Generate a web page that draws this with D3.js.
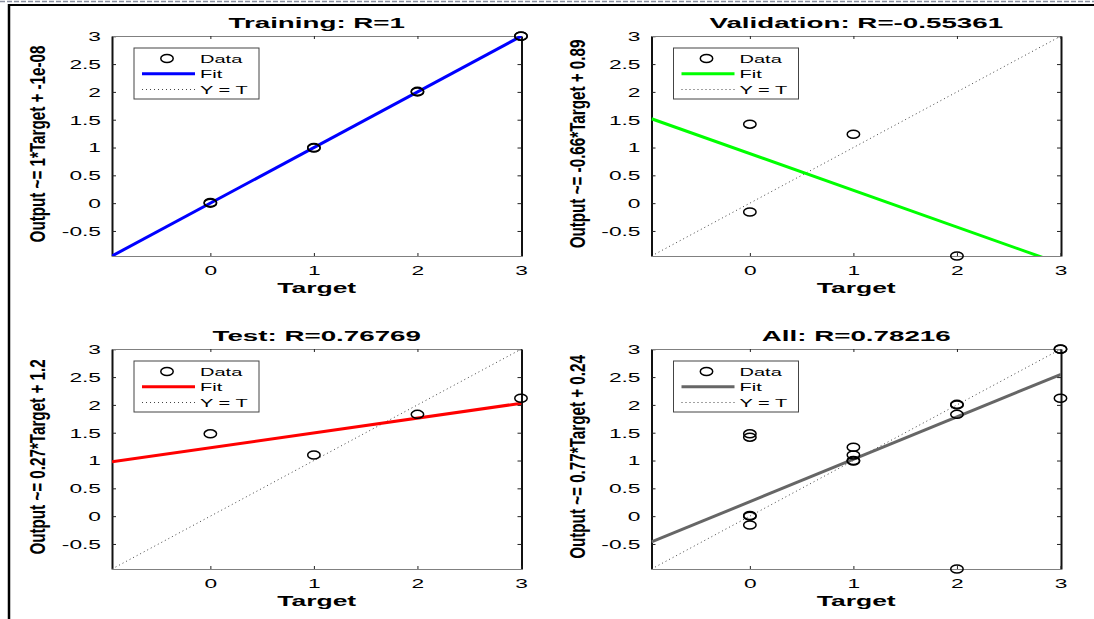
<!DOCTYPE html>
<html>
<head>
<meta charset="utf-8">
<script src="https://cdn.jsdelivr.net/npm/d3@7"></script>
<style>
  html, body { margin: 0; padding: 0; background: #fff; }
  svg { display: block; }
  text { font-family: "Liberation Sans", Arial, Helvetica, sans-serif; fill: #000; }
</style>
</head>
<body>
<svg id="chart" width="1094" height="619"></svg>
<script>
// ---------- data ----------
const trainTargets = [0, 0, 1, 1, 2, 2, 3, 3];
const trainOutputs = [0, 0.012, 1, 0.99, 2, 2.01, 3, 3.005];
const valTargets   = [0, 1, 0, 2];
const valOutputs   = [1.42, 1.24, -0.16, -0.95];
const testTargets  = [0, 1, 2, 3];
const testOutputs  = [1.48, 1.10, 1.83, 2.12];
const allTargets   = trainTargets.concat(valTargets, testTargets);
const allOutputs   = trainOutputs.concat(valOutputs, testOutputs);

const panelTitles  = ["Training: R=1", "Validation: R=-0.55361", "Test: R=0.76769", "All: R=0.78216"];
const yLabels      = ["Output ~= 1*Target + -1e-08", "Output ~= -0.66*Target + 0.89",
                      "Output ~= 0.27*Target + 1.2", "Output ~= 0.77*Target + 0.24"];
const fitSlopes     = [1, -0.66, 0.266, 0.762];
const fitIntercepts = [0, 0.89, 1.231, 0.26];
const fitColors     = ["#0000ff", "#00ff00", "#ff0000", "#666666"];
const xTicks = [0, 1, 2, 3];
const yTicks = [-0.5, 0, 0.5, 1, 1.5, 2, 2.5, 3];
const legendLabels = ["Data", "Fit", "Y = T"];
const xLabel = "Target";

// ---------- layout ----------
const svg = d3.select("#chart");
const FONT = '"Liberation Sans", Arial, Helvetica, sans-serif';
const SX = 1.85;           // horizontal stretch of the reference picture
const PW = 409.5, PH = 220;
const panelPos = [
  {left: 112, top: 36},
  {left: 651.5, top: 36},
  {left: 112, top: 349},
  {left: 651.5, top: 349}
];
const panelData = [
  {t: trainTargets, o: trainOutputs},
  {t: valTargets, o: valOutputs},
  {t: testTargets, o: testOutputs},
  {t: allTargets, o: allOutputs}
];

const lo = Math.min(d3.min(allTargets), d3.min(allOutputs));
const hi = Math.max(d3.max(allTargets), d3.max(allOutputs));

// frame lines
svg.append("line").attr("x1", 0).attr("x2", 1094).attr("y1", 1.5).attr("y2", 1.5)
  .attr("stroke", "#8a90a0").attr("stroke-width", 1.5).attr("stroke-dasharray", "5,2");
svg.append("line").attr("x1", 8).attr("x2", 1094).attr("y1", 5).attr("y2", 5)
  .attr("stroke", "#000").attr("stroke-width", 2);
svg.append("line").attr("x1", 9).attr("x2", 9).attr("y1", 4).attr("y2", 619)
  .attr("stroke", "#000").attr("stroke-width", 2.5);

function stretchedText(parent, x, y, str, size, weight, anchor, sx) {
  return parent.append("g")
    .attr("transform", `translate(${x},${y}) scale(${sx},1)`)
    .append("text")
    .attr("text-anchor", anchor)
    .attr("font-size", size)
    .attr("font-weight", weight)
    .text(str);
}

panelPos.forEach((p, i) => {
  const g = svg.append("g").attr("transform", `translate(${p.left},${p.top})`);
  const x = d3.scaleLinear().domain([lo, hi]).range([0, PW]);
  const y = d3.scaleLinear().domain([lo, hi]).range([PH, 0]);

  const clipId = "clip" + i;
  g.append("clipPath").attr("id", clipId)
    .append("rect").attr("x", 0).attr("y", 0).attr("width", PW).attr("height", PH);

  // axes
  const fmt = d => String(d);
  const ax = [
    g.append("g").call(d3.axisLeft(y).tickValues(yTicks).tickFormat(fmt).tickSizeInner(-4).tickSizeOuter(0).tickPadding(11)),
    g.append("g").attr("transform", `translate(${PW},0)`).call(d3.axisRight(y).tickValues(yTicks).tickFormat("").tickSizeInner(-4).tickSizeOuter(0)),
    g.append("g").attr("transform", `translate(0,${PH})`).call(d3.axisBottom(x).tickValues(xTicks).tickFormat(fmt).tickSizeInner(-3).tickSizeOuter(0).tickPadding(10)),
    g.append("g").call(d3.axisTop(x).tickValues(xTicks).tickFormat("").tickSizeInner(-3).tickSizeOuter(0))
  ];
  ax.forEach((a, k) => {
    a.selectAll("text").attr("font-family", FONT).attr("font-size", 12.3).attr("fill", "#000");
    a.selectAll(".tick line").attr("stroke", "#222").attr("stroke-width", 1);
    a.select(".domain").attr("stroke", k < 2 ? "#111" : "#808080").attr("stroke-width", k < 2 ? 2 : 1.2);
  });
  // stretch tick labels horizontally
  ax[0].selectAll(".tick text").attr("x", -11 / SX).attr("dy", "0.36em").attr("transform", `scale(${SX},1)`);
  ax[2].selectAll(".tick text").attr("x", 0).attr("y", 0).attr("dy", 0)
    .attr("transform", `translate(0,18.5) scale(${SX},1)`);

  // Y = T dotted line
  const plot = g.append("g").attr("clip-path", `url(#${clipId})`);
  plot.append("line")
    .attr("x1", x(lo)).attr("y1", y(lo)).attr("x2", x(hi)).attr("y2", y(hi))
    .attr("stroke", "#444").attr("stroke-width", 1).attr("stroke-dasharray", "1,3");
  // fit line
  plot.append("line")
    .attr("x1", x(lo)).attr("y1", y(fitSlopes[i] * lo + fitIntercepts[i]))
    .attr("x2", x(hi)).attr("y2", y(fitSlopes[i] * hi + fitIntercepts[i]))
    .attr("stroke", fitColors[i]).attr("stroke-width", 3);

  // data circles
  const pts = panelData[i].t.map((t, j) => ({t, o: panelData[i].o[j]}));
  g.append("g").selectAll("ellipse").data(pts).join("ellipse")
    .attr("cx", d => x(d.t)).attr("cy", d => y(d.o))
    .attr("rx", 6.2).attr("ry", 4)
    .attr("fill", "none").attr("stroke", "#000").attr("stroke-width", 1.5);

  // title
  stretchedText(g, PW / 2, -8, panelTitles[i], 15, "bold", "middle", SX);
  // x label
  stretchedText(g, PW / 2, PH + 37, xLabel, 14.7, "bold", "middle", 1.8);
  // y label (rotated)
  g.append("g")
    .attr("transform", `translate(-67,${PH / 2 - 2}) scale(1.4,1) rotate(-90)`)
    .append("text").attr("text-anchor", "middle")
    .attr("font-size", 15.2).attr("font-weight", "bold")
    .text(yLabels[i]);

  // legend
  const lg = g.append("g").attr("transform", "translate(22,12)");
  lg.append("rect").attr("x", 0).attr("y", 0).attr("width", 125).attr("height", 51)
    .attr("fill", "#fff").attr("stroke", "#444").attr("stroke-width", 1);
  const rows = [10.5, 25.7, 41.5];
  lg.append("ellipse").attr("cx", 33).attr("cy", rows[0]).attr("rx", 6.2).attr("ry", 4)
    .attr("fill", "none").attr("stroke", "#000").attr("stroke-width", 1.5);
  lg.append("line").attr("x1", 8).attr("x2", 61).attr("y1", rows[1]).attr("y2", rows[1])
    .attr("stroke", fitColors[i]).attr("stroke-width", 3);
  lg.append("line").attr("x1", 8).attr("x2", 61).attr("y1", rows[2]).attr("y2", rows[2])
    .attr("stroke", "#444").attr("stroke-width", 1).attr("stroke-dasharray", "1,3");
  legendLabels.forEach((lab, k) => {
    stretchedText(lg, 66, rows[k] + 4.2, lab, 11.8, "normal", "start", 1.7);
  });
});
</script>
</body>
</html>
